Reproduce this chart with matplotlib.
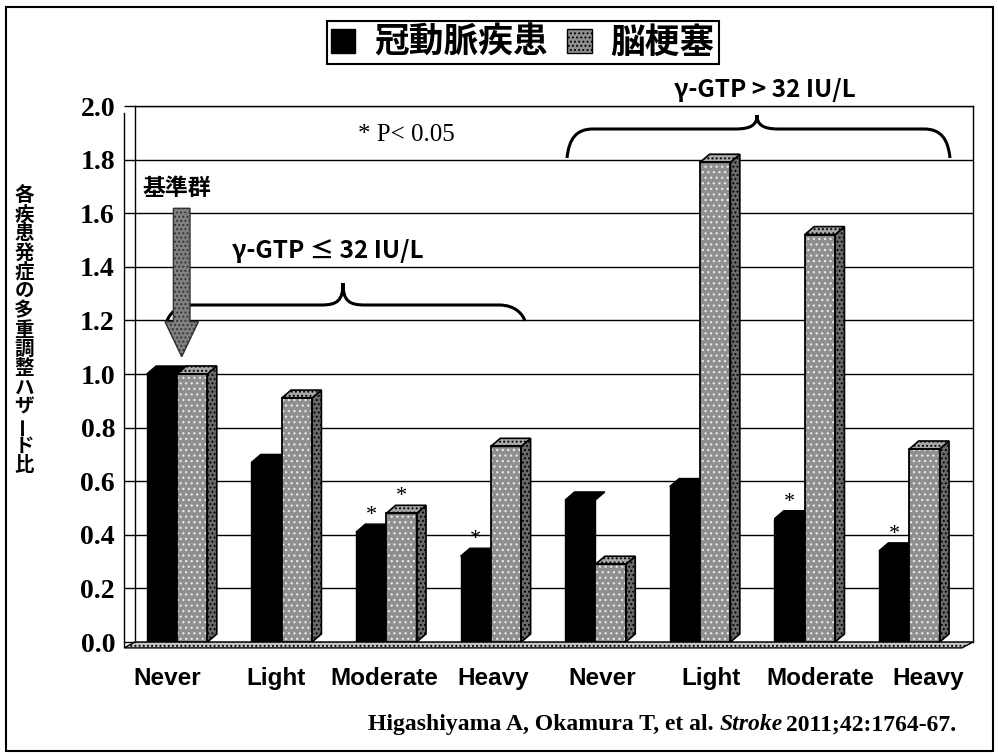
import matplotlib
matplotlib.use('Agg')
import matplotlib.pyplot as plt
import numpy as np
from matplotlib.patches import Polygon, Patch, Rectangle, PathPatch
from matplotlib.path import Path
from matplotlib.lines import Line2D

plt.rcParams['hatch.linewidth'] = 0.9

W, H = 998, 756
JP = ['Noto Sans CJK JP', 'DejaVu Sans']

categories = ['Never', 'Light', 'Moderate', 'Heavy', 'Never', 'Light', 'Moderate', 'Heavy']
chd = [1.00, 0.67, 0.41, 0.32, 0.53, 0.58, 0.46, 0.34]      # 冠動脈疾患
stroke = [1.00, 0.91, 0.48, 0.73, 0.29, 1.79, 1.52, 0.72]   # 脳梗塞
chd_sig = [False, False, True, True, False, False, True, True]
stroke_sig = [False, False, True, False, False, False, False, False]
yticks = [0.0, 0.2, 0.4, 0.6, 0.8, 1.0, 1.2, 1.4, 1.6, 1.8, 2.0]
ylabel = '各疾患発症の多重調整ハザード比'


def fx(x):
    return x / W


def fy(y):
    return 1 - y / H


def brace(x0, x1, xm, yf, yp, ye, r=26, r2=22):
    # curly brace in pixel coords, opening downwards
    verts = [(x0, ye), (x0 + 2, yf + 10), (x0 + 9, yf), (x0 + r, yf),
             (xm - r2, yf),
             (xm - 6, yf), (xm, yf - 4), (xm, yp),
             (xm, yf - 4), (xm + 6, yf), (xm + r2, yf),
             (x1 - r, yf),
             (x1 - 9, yf), (x1 - 2, yf + 10), (x1, ye)]
    codes = [Path.MOVETO, Path.CURVE4, Path.CURVE4, Path.CURVE4, Path.LINETO,
             Path.CURVE4, Path.CURVE4, Path.CURVE4, Path.CURVE4, Path.CURVE4,
             Path.CURVE4, Path.LINETO, Path.CURVE4, Path.CURVE4, Path.CURVE4]
    verts = [(fx(a), fy(b)) for a, b in verts]
    return PathPatch(Path(verts, codes), fill=False, lw=2.2, edgecolor='black',
                     transform=fig.transFigure, zorder=6)


fig = plt.figure(figsize=(9.98, 7.56), dpi=100)
ax = fig.add_axes([fx(135), fy(642), (973 - 135) / W, (642 - 106) / H])

x = np.arange(len(categories))
w = 0.29
xb = x - 0.15
xg = x + 0.14
DX, DY = 0.09, 0.03

# coronary heart disease: black bars with a top face
ax.bar(xb, chd, w, color='black', edgecolor='black', lw=1, zorder=3)
for xi, h in zip(xb, chd):
    l, r = xi - w / 2, xi + w / 2
    ax.add_patch(Polygon([(l, h), (l + DX, h + DY), (r + DX, h + DY), (r, h)],
                         facecolor='black', edgecolor='black', lw=1, zorder=3))

# cerebral infarction: dotted grey bars with side and top faces
ax.bar(xg, stroke, w, color='#8f8f8f', edgecolor='#e8e8e8', hatch='...', lw=0, zorder=4)
ax.bar(xg, stroke, w, fill=False, edgecolor='black', lw=1.3, zorder=4.5)
for xi, h in zip(xg, stroke):
    l, r = xi - w / 2, xi + w / 2
    ax.add_patch(Polygon([(r, 0), (r + DX, DY), (r + DX, h + DY), (r, h)],
                         facecolor='#6a6a6a', edgecolor='black', hatch='....', lw=1.2, zorder=4))
    ax.add_patch(Polygon([(l, h), (l + DX, h + DY), (r + DX, h + DY), (r, h)],
                         facecolor='#a8a8a8', edgecolor='black', hatch='....', lw=1.2, zorder=4))

for xi, h, s in zip(xb, chd, chd_sig):
    if s:
        ax.text(xi, h + 0.045, '*', ha='center', va='baseline', fontsize=16,
                family='Liberation Serif', zorder=5)
for xi, h, s in zip(xg, stroke, stroke_sig):
    if s:
        ax.text(xi, h + 0.045, '*', ha='center', va='baseline', fontsize=16,
                family='Liberation Serif', zorder=5)

xl0, xl1 = -0.407, 7.604
ax.set_xlim(xl0, xl1)
ax.set_ylim(0, 2.0)

# floor of the 3D chart
ax.add_patch(Polygon([(xl0 - 0.105, -0.022), (xl0, 0), (xl1, 0), (xl1 - 0.105, -0.022)],
                     facecolor='#c8c8c8', edgecolor='black', hatch='....', lw=1,
                     clip_on=False, zorder=2))

ax.set_yticks(yticks)
ax.set_yticklabels([f'{v:.1f}' for v in yticks], family='Liberation Serif',
                   fontweight='bold', fontsize=20)
ax.tick_params(axis='y', direction='out', length=7.9, width=1, pad=6.5)
ax.set_xticks(x * 1.04 - 0.1)
ax.set_xticklabels(categories, family='Liberation Sans', fontweight='bold', fontsize=17.5)
ax.tick_params(axis='x', length=0, pad=18)
ax.grid(axis='y', color='black', lw=1)
ax.set_axisbelow(True)
ax.spines['bottom'].set_visible(False)
for s in ['left', 'right', 'top']:
    ax.spines[s].set_linewidth(1)

# front edge of the side wall
fig.add_artist(Line2D([fx(124), fx(124)], [fy(646), fy(113)], color='black', lw=1))

# vertical y-axis label
for k, ch in enumerate(ylabel):
    fig.text(fx(24), fy(195 + k * 19.3), ch, ha='center', va='center', fontsize=14,
             fontweight='bold', family=JP, rotation=90 if ch == 'ー' else 0)

# legend
handles = [Patch(facecolor='black', edgecolor='black'),
           Patch(facecolor='#8f8f8f', edgecolor='black', hatch='....')]
leg = fig.legend(handles, ['冠動脈疾患', '脳梗塞'], loc='center',
                 bbox_to_anchor=(fx(523), fy(42.5)), ncol=2,
                 prop=dict(family=JP, weight='bold', size=25),
                 handlelength=0.7, handleheight=0.7, handletextpad=0.55,
                 columnspacing=0.55, borderpad=0.12, borderaxespad=0,
                 fancybox=False, edgecolor='black', framealpha=1)
leg.get_frame().set_linewidth(1.5)

# annotations
fig.text(fx(406), fy(135), '* P< 0.05', ha='center', va='center', fontsize=18,
         family='Liberation Serif')
fig.text(fx(765), fy(90), 'γ-GTP > 32 IU/L', ha='center', va='center', fontsize=17.5,
         fontweight='bold', family=JP)
fig.text(fx(327.5), fy(251), 'γ-GTP ≤ 32 IU/L', ha='center', va='center', fontsize=17.5,
         fontweight='bold', family=JP)
fig.text(fx(177), fy(188), '基準群', ha='center', va='center', fontsize=16.5,
         fontweight='bold', family=JP)

fig.add_artist(brace(567, 950, 757, 129, 115, 158))
fig.add_artist(brace(167, 525, 343, 305, 283, 321))

arrow = [(173.4, 208.3), (190, 208.3), (190, 321.7), (198.4, 321.7), (181.7, 356.7),
         (165, 321.7), (173.4, 321.7)]
fig.add_artist(Polygon([(fx(a), fy(b)) for a, b in arrow], closed=True,
                       facecolor='#808080', edgecolor='#333333', hatch='....', lw=1,
                       transform=fig.transFigure, zorder=7))

# citation, built right to left
t3 = fig.text(fx(956), fy(735), '2011;42:1764-67.', ha='right', va='bottom',
              fontsize=17, fontweight='bold', family='Liberation Serif')
t2 = ax.annotate('Stroke', xy=(0, 0), xycoords=t3, xytext=(-2.5, 0),
                 textcoords='offset points', ha='right', va='bottom', fontsize=17,
                 fontweight='bold', fontstyle='italic', family='Liberation Serif',
                 annotation_clip=False)
ax.annotate('Higashiyama A, Okamura T, et al.', xy=(0, 0), xycoords=t2, xytext=(-4, 0),
            textcoords='offset points', ha='right', va='bottom', fontsize=17,
            fontweight='bold', family='Liberation Serif', annotation_clip=False)

# outer frame
fig.add_artist(Rectangle((fx(6), fy(751)), (993 - 6) / W, (751 - 7) / H, fill=False,
                         edgecolor='black', lw=1.5, transform=fig.transFigure))

fig.savefig('out.png', dpi=100)
